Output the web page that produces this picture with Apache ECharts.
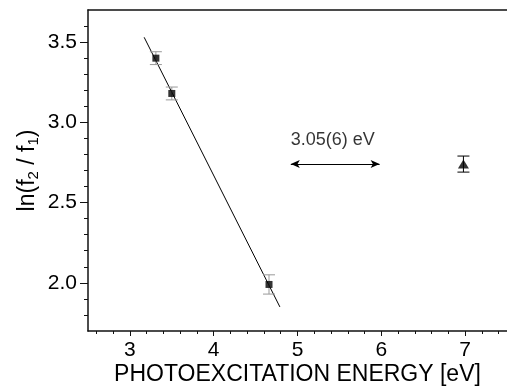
<!DOCTYPE html>
<html>
<head>
<meta charset="utf-8">
<script src="https://cdn.jsdelivr.net/npm/echarts@6/dist/echarts.min.js"></script>
<style>
  html, body { margin: 0; padding: 0; background: #fff; }
  #chart { width: 507px; height: 387px; }
</style>
</head>
<body>
<div id="chart"></div>
<script>
// measured points (squares, grey error bars)
const squareX = [3.31, 3.50, 4.66];
const squareY = [3.40, 3.18, 1.99];
const squareErr = [0.04, 0.04, 0.06];

// single triangle point (black error bar)
const triangleX = [6.98];
const triangleY = [2.74];
const triangleErr = [0.05];

// linear fit through the squares
const fitX = [3.17, 4.79];
const fitY = [3.53, 1.85];

// double arrow + its note
const arrowX = [4.92, 5.98];
const arrowY = [2.74, 2.74];
const noteX = 4.92;
const noteY = 2.89;
const noteText = '3.05(6) eV';

// tick labels / marks
const xMajorTicks = [3, 4, 5, 6, 7];
const xMinorTicks = [2.6, 2.8, 3.2, 3.4, 3.6, 3.8, 4.2, 4.4, 4.6, 4.8, 5.2, 5.4, 5.6, 5.8, 6.2, 6.4, 6.6, 6.8, 7.2, 7.4];
const yMajorTicks = [2.0, 2.5, 3.0, 3.5];
const yMinorTicks = [1.8, 1.9, 2.1, 2.2, 2.3, 2.4, 2.6, 2.7, 2.8, 2.9, 3.1, 3.2, 3.3, 3.4, 3.6];

const FONT = '"Liberation Sans", Arial, sans-serif';
const AXIS_COLOR = '#111';

const chart = echarts.init(document.getElementById('chart'), null, { renderer: 'canvas' });

// vertical error bar with caps
function errorBar(color, capHalf) {
    return function (params, api) {
        const x = api.value(0);
        const y = api.value(1);
        const e = api.value(2);
        const top = api.coord([x, y + e]);
        const bot = api.coord([x, y - e]);
        const style = { stroke: color, lineWidth: 1 };
        return {
            type: 'group',
            children: [
                { type: 'line', shape: { x1: top[0], y1: top[1], x2: bot[0], y2: bot[1] }, style },
                { type: 'line', shape: { x1: top[0] - capHalf, y1: top[1], x2: top[0] + capHalf, y2: top[1] }, style },
                { type: 'line', shape: { x1: bot[0] - capHalf, y1: bot[1], x2: bot[0] + capHalf, y2: bot[1] }, style },
            ],
        };
    };
}

const baseX = { type: 'value', min: 2.5, max: 7.5, splitLine: { show: false } };
const baseY = { type: 'value', min: 1.7, max: 3.7, splitLine: { show: false } };

const option = {
    animation: false,
    grid: { left: 88, right: 0, top: 10, bottom: 56, containLabel: false, outerBoundsMode: 'none' },
    xAxis: [
        {
            ...baseX,
            position: 'bottom',
            name: 'PHOTOEXCITATION ENERGY [eV]',
            nameLocation: 'middle',
            nameGap: 32,
            nameMoveOverlap: false,
            nameTextStyle: { fontFamily: FONT, fontSize: 23, color: '#000' },
            axisLine: { lineStyle: { color: AXIS_COLOR, width: 1.5 } },
            axisTick: { show: true, customValues: xMajorTicks, length: 5, lineStyle: { color: AXIS_COLOR, width: 1 } },
            axisLabel: { customValues: xMajorTicks, margin: 9, fontFamily: FONT, fontSize: 21, color: '#000' },
        },
        {
            ...baseX,
            position: 'bottom',
            axisLine: { show: false },
            axisTick: { show: true, customValues: xMinorTicks, length: 3, lineStyle: { color: AXIS_COLOR, width: 1 } },
            axisLabel: { show: false },
        },
        {
            ...baseX,
            position: 'top',
            axisLine: { lineStyle: { color: AXIS_COLOR, width: 1.5 } },
            axisTick: { show: false },
            axisLabel: { show: false },
        },
    ],
    yAxis: [
        {
            ...baseY,
            position: 'left',
            name: 'ln(f{sub|2} / f{sub|1})',
            nameLocation: 'middle',
            nameRotate: 90,
            nameGap: 47,
            nameMoveOverlap: false,
            nameTextStyle: {
                fontFamily: FONT, fontSize: 23, color: '#000',
                rich: { sub: { fontFamily: FONT, fontSize: 15, color: '#000', verticalAlign: 'bottom', padding: [11, 0, 0, 0] } },
            },
            axisLine: { lineStyle: { color: AXIS_COLOR, width: 1.5 } },
            axisTick: { show: true, customValues: yMajorTicks, length: 8, lineStyle: { color: AXIS_COLOR, width: 1 } },
            axisLabel: {
                customValues: yMajorTicks, margin: 11, fontFamily: FONT, fontSize: 21, color: '#000',
                formatter: (v) => Number(v).toFixed(1),
            },
        },
        {
            ...baseY,
            position: 'left',
            axisLine: { show: false },
            axisTick: { show: true, customValues: yMinorTicks, length: 4, lineStyle: { color: AXIS_COLOR, width: 1 } },
            axisLabel: { show: false },
        },
    ],
    series: [
        {
            type: 'line',
            data: fitX.map((x, i) => [x, fitY[i]]),
            showSymbol: false,
            lineStyle: { color: '#000', width: 1 },
            z: 2,
        },
        {
            type: 'custom',
            renderItem: errorBar('#999', 6),
            data: squareX.map((x, i) => [x, squareY[i], squareErr[i]]),
            z: 3,
        },
        {
            type: 'custom',
            renderItem: errorBar('#000', 6),
            data: triangleX.map((x, i) => [x, triangleY[i], triangleErr[i]]),
            z: 3,
        },
        {
            type: 'scatter',
            data: squareX.map((x, i) => [x, squareY[i]]),
            symbol: 'rect',
            symbolSize: 7,
            itemStyle: { color: '#000' },
            z: 4,
        },
        {
            type: 'scatter',
            data: triangleX.map((x, i) => [x, triangleY[i]]),
            symbol: 'triangle',
            symbolSize: [11, 9],
            itemStyle: { color: '#000' },
            z: 4,
        },
        {
            type: 'scatter',
            data: [[noteX, noteY]],
            symbolSize: 0,
            silent: true,
            label: {
                show: true, position: 'right', distance: 0,
                formatter: noteText, fontFamily: FONT, fontSize: 18, color: '#000',
            },
            markLine: {
                silent: true,
                symbol: ['arrow', 'arrow'],
                symbolSize: [6, 9],
                label: { show: false },
                lineStyle: { color: '#000', width: 1, type: 'solid' },
                data: [[{ coord: [arrowX[0], arrowY[0]] }, { coord: [arrowX[1], arrowY[1]] }]],
            },
        },
    ],
};

chart.setOption(option);
</script>
</body>
</html>
